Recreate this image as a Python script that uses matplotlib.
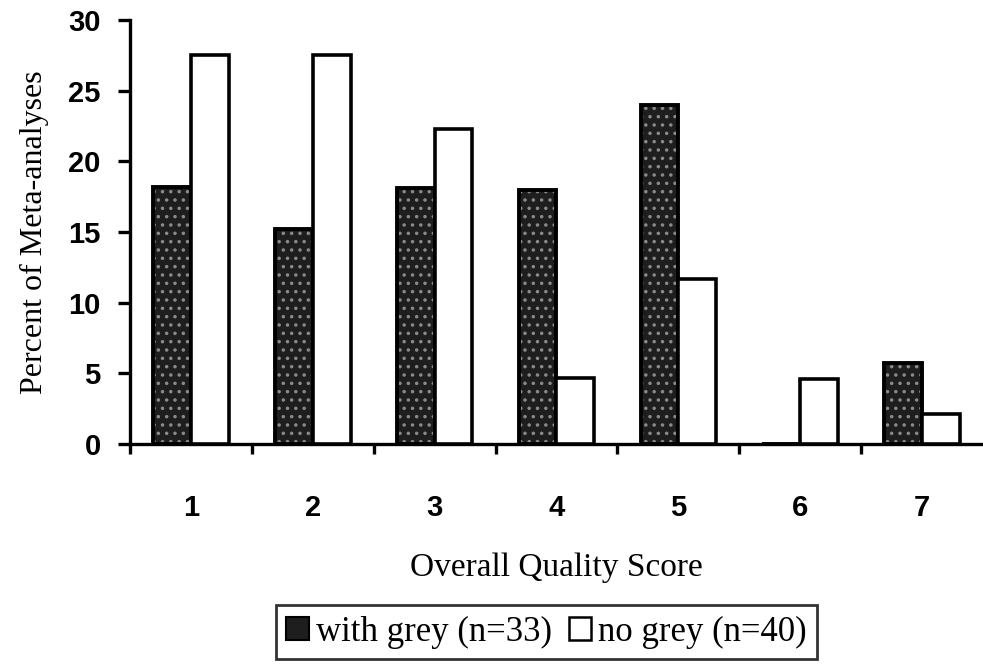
import matplotlib
matplotlib.use('Agg')
import matplotlib.pyplot as plt
import matplotlib.patches as mpatches
import numpy as np

scores = ['1', '2', '3', '4', '5', '6', '7']
with_grey = [18.2, 15.2, 18.1, 18.0, 24.0, 0.0, 5.7]
no_grey = [27.5, 27.5, 22.3, 4.7, 11.7, 4.6, 2.1]
series_labels = ['with grey (n=33)', 'no grey (n=40)']

serif = ['Liberation Serif', 'DejaVu Serif']
sans = ['Liberation Sans', 'DejaVu Sans']

fig = plt.figure(figsize=(9.83, 6.67), dpi=100)
ax = fig.add_axes([0.1322, 0.3343, 0.8678, 0.6357])

x = np.arange(1, len(scores) + 1)
w = 0.31
plt.rcParams['hatch.linewidth'] = 1.3

# dark stippled bars: texture first, outline on top
ax.bar(x - w / 2, with_grey, w, color='#1e1e1e', edgecolor='#8a8a8a',
       hatch='..', linewidth=0, zorder=2)
ax.bar(x - w / 2, with_grey, w, fill=False, edgecolor='black',
       linewidth=2.8, zorder=3)
ax.bar(x + w / 2, no_grey, w, color='white', edgecolor='black',
       linewidth=2.6, zorder=3)

ax.set_xlim(0.5, 7.5)
ax.set_ylim(0, 30)
for side in ['top', 'right']:
    ax.spines[side].set_visible(False)
for side in ['left', 'bottom']:
    ax.spines[side].set_linewidth(2.4)

ax.set_yticks(np.arange(0, 31, 5))
ax.tick_params(axis='y', length=9, width=2.4, pad=12)
for lab in ax.get_yticklabels():
    lab.set_family(sans)
    lab.set_fontweight('bold')
    lab.set_fontsize(21)

ax.set_xticks(x)
ax.set_xticklabels(scores, family=sans, fontweight='bold', fontsize=21)
ax.set_xticks(np.arange(0.5, 7.0, 1.0), minor=True)
ax.tick_params(axis='x', which='major', length=0, pad=36)
ax.tick_params(axis='x', which='minor', length=7, width=2.4)

ax.set_ylabel('Percent of Meta-analyses', family=serif, fontsize=23, labelpad=14)
ax.set_xlabel('Overall Quality Score', family=serif, fontsize=24, labelpad=22)

handles = [mpatches.Patch(facecolor='#1e1e1e', edgecolor='black', linewidth=1.5),
           mpatches.Patch(facecolor='white', edgecolor='black', linewidth=1.8)]
leg = fig.legend(handles, series_labels, loc='center', bbox_to_anchor=(0.556, 0.052),
                 ncol=2, prop={'family': serif, 'size': 25}, frameon=True,
                 fancybox=False, edgecolor='black', handlelength=0.65,
                 handleheight=0.65, handletextpad=0.2, columnspacing=0.5,
                 borderpad=0.3, borderaxespad=0)
leg.get_frame().set_linewidth(2.0)

fig.savefig('out.png', dpi=100)
